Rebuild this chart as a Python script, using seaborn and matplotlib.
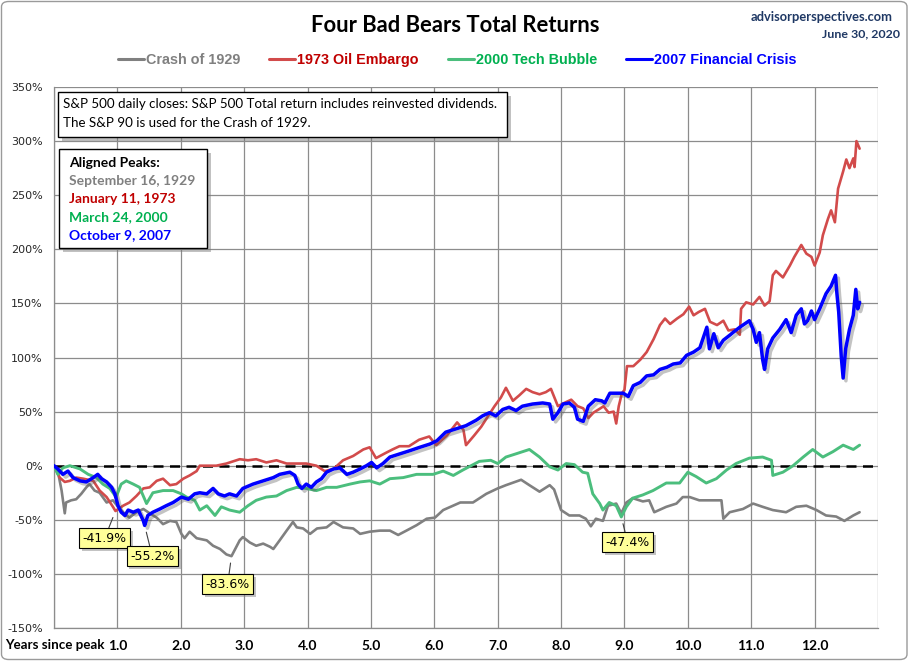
import numpy as np
import pandas as pd
import matplotlib
matplotlib.use("Agg")
import matplotlib.pyplot as plt
import seaborn as sns
from matplotlib import patheffects as pe
from matplotlib.patches import FancyBboxPatch
from matplotlib.lines import Line2D

# ---------------- data ----------------
series_names = ["Crash of 1929", "1973 Oil Embargo", "2000 Tech Bubble", "2007 Financial Crisis"]
peak_dates = ["September 16, 1929", "January 11, 1973", "March 24, 2000", "October 9, 2007"]

years_1929 = [0.00, 0.06, 0.12, 0.17, 0.19, 0.27, 0.35, 0.43, 0.51, 0.56, 0.64, 0.72, 0.83, 0.93,
              1.01, 1.09, 1.19, 1.30, 1.41, 1.51, 1.62, 1.72, 1.83, 1.93, 2.01, 2.06, 2.14, 2.25,
              2.41, 2.51, 2.62, 2.72, 2.80, 2.85, 2.93, 2.98, 3.09, 3.19, 3.30, 3.41, 3.46, 3.56,
              3.67, 3.77, 3.83, 3.93, 4.04, 4.15, 4.30, 4.41, 4.56, 4.72, 4.83, 4.98, 5.14, 5.30,
              5.43, 5.56, 5.72, 5.88, 6.01, 6.14, 6.41, 6.61, 6.82, 7.00, 7.13, 7.37, 7.50, 7.66,
              7.82, 7.89, 8.00, 8.13, 8.29, 8.39, 8.47, 8.55, 8.66, 8.74, 8.87, 8.95, 9.03, 9.13,
              9.29, 9.39, 9.47, 9.66, 9.82, 9.92, 10.03, 10.18, 10.34, 10.53, 10.56, 10.66, 10.87,
              11.03, 11.18, 11.34, 11.55, 11.71, 11.87, 12.03, 12.18, 12.34, 12.47, 12.61, 12.71]
ret_1929 = [0, -5, -23, -44, -34, -32, -31, -26, -20, -17, -23, -25, -34, -32,
            -38, -43, -48, -43, -40, -44, -48, -54, -51, -52, -63, -67, -61, -67,
            -69, -74, -77, -82, -83.6, -78, -69, -66, -71, -74, -72, -75, -77, -69,
            -60, -52, -57, -58, -63, -58, -57, -52, -57, -58, -63, -61, -60, -60,
            -64, -60, -55, -49, -48, -41, -34, -34, -26, -21, -18, -13, -18, -24,
            -18, -22, -41, -46, -46, -49, -56, -49, -51, -37, -35, -44, -34, -30,
            -33, -32, -43, -38, -35, -29, -29, -32, -32, -32, -49, -43, -40,
            -35, -38, -41, -43, -38, -37, -41, -46, -47, -51, -46, -43]

years_1973 = [0.00, 0.09, 0.17, 0.25, 0.35, 0.46, 0.62, 0.72, 0.83, 0.93, 0.97, 1.09, 1.19, 1.30,
              1.41, 1.51, 1.62, 1.72, 1.83, 1.93, 2.04, 2.14, 2.25, 2.30, 2.41, 2.56, 2.72, 2.93,
              3.06, 3.19, 3.35, 3.51, 3.67, 3.83, 3.98, 4.14, 4.27, 4.41, 4.56, 4.72, 4.88, 4.98,
              5.08, 5.24, 5.34, 5.45, 5.60, 5.76, 5.92, 6.03, 6.20, 6.36, 6.46, 6.50, 6.63, 6.74,
              6.84, 6.95, 7.05, 7.13, 7.24, 7.34, 7.45, 7.55, 7.66, 7.76, 7.84, 7.95, 8.05, 8.16,
              8.26, 8.35, 8.43, 8.51, 8.62, 8.67, 8.75, 8.83, 8.87, 8.91, 8.96, 9.00, 9.04, 9.14,
              9.25, 9.35, 9.46, 9.56, 9.64, 9.72, 9.83, 9.93, 10.02, 10.09, 10.17, 10.27, 10.35,
              10.46, 10.56, 10.64, 10.74, 10.82, 10.84, 10.92, 11.03, 11.13, 11.21, 11.29, 11.34,
              11.39, 11.50, 11.61, 11.68, 11.79, 11.87, 11.95, 12.00, 12.08, 12.13, 12.21, 12.26,
              12.32, 12.37, 12.45, 12.50, 12.55, 12.61, 12.63, 12.66, 12.71]
ret_1973 = [0, -11, -15, -14, -11, -12, -14, -23, -29, -38, -41.9, -37, -34, -28,
            -21, -20, -14, -12, -18, -17, -12, -9, -5, 0, 0, 0, 2, 6,
            5, 6, 3, 5, 2, 2, 2, 0, -5, -3, 5, 9, 15, 17,
            7, 12, 15, 18, 18, 24, 27, 19, 28, 40, 33, 19, 28, 36,
            45, 55, 63, 72, 60, 65, 71, 68, 66, 68, 71, 55, 58, 61,
            55, 53, 44, 49, 53, 55, 49, 50, 39, 55, 67, 70, 92, 92,
            98, 105, 117, 130, 136, 131, 136, 140, 147, 139, 142, 145, 133,
            130, 134, 125, 126, 121, 145, 151, 149, 156, 148, 152, 176,
            180, 174, 185, 193, 204, 196, 193, 185, 197, 213, 228, 236,
            225, 256, 272, 283, 275, 284, 276, 300, 293]

years_2000 = [0.00, 0.06, 0.14, 0.25, 0.41, 0.54, 0.67, 0.77, 0.88, 0.98, 1.06, 1.14, 1.25, 1.35,
              1.46, 1.56, 1.72, 1.88, 2.01, 2.09, 2.22, 2.30, 2.41, 2.54, 2.64, 2.77, 2.93, 3.06,
              3.19, 3.35, 3.51, 3.67, 3.83, 3.98, 4.14, 4.30, 4.46, 4.67, 4.83, 4.98, 5.14, 5.30,
              5.51, 5.72, 5.98, 6.14, 6.30, 6.45, 6.71, 6.89, 7.00, 7.13, 7.29, 7.50, 7.66, 7.82,
              7.95, 8.08, 8.21, 8.34, 8.42, 8.50, 8.61, 8.66, 8.76, 8.87, 8.95, 9.03, 9.13, 9.29,
              9.45, 9.66, 9.87, 10.00, 10.13, 10.29, 10.45, 10.61, 10.76, 10.97, 11.18, 11.32, 11.34,
              11.50, 11.66, 11.82, 11.97, 12.13, 12.29, 12.45, 12.61, 12.71]
ret_2000 = [0, -8, -2, 0, -3, -8, -11, -17, -21, -29, -17, -14, -17, -20,
            -35, -25, -23, -23, -26, -29, -32, -41, -37, -46, -38, -41, -43, -37,
            -32, -29, -28, -23, -20, -21, -23, -20, -20, -17, -15, -14, -17, -12,
            -11, -8, -8, -5, -9, -4, 4, 5, 2, 8, 11, 15, 8, -1,
            -4, 2, 1, -6, -7, -26, -35, -41, -34, -37, -47.4, -38, -30, -27,
            -23, -16, -16, -6, -10, -16, -12, -4, 2, 7, 8, 5, -9,
            -6, 0, 8, 15, 8, 13, 19, 15, 19]

years_2007 = [0.00, 0.06, 0.14, 0.22, 0.30, 0.41, 0.51, 0.62, 0.69, 0.75, 0.83, 0.91, 0.96, 1.01,
              1.06, 1.12, 1.17, 1.25, 1.33, 1.41, 1.43, 1.48, 1.56, 1.67, 1.77, 1.88, 2.01, 2.12,
              2.22, 2.30, 2.41, 2.51, 2.59, 2.69, 2.77, 2.88, 2.98, 3.14, 3.30, 3.46, 3.56, 3.72,
              3.80, 3.85, 3.91, 3.98, 4.06, 4.14, 4.22, 4.30, 4.41, 4.51, 4.62, 4.72, 4.83, 4.93,
              5.01, 5.09, 5.19, 5.30, 5.46, 5.62, 5.77, 5.93, 6.04, 6.18, 6.34, 6.50, 6.66, 6.76,
              6.87, 6.97, 7.08, 7.18, 7.29, 7.39, 7.55, 7.71, 7.82, 7.87, 7.95, 8.03, 8.13, 8.21,
              8.26, 8.35, 8.43, 8.54, 8.64, 8.69, 8.77, 8.88, 8.98, 9.06, 9.14, 9.25, 9.35, 9.46,
              9.56, 9.67, 9.77, 9.88, 9.98, 10.09, 10.19, 10.30, 10.34, 10.41, 10.48, 10.56, 10.67,
              10.71, 10.82, 10.97, 11.03, 11.08, 11.13, 11.18, 11.21, 11.26, 11.34, 11.45, 11.55,
              11.63, 11.71, 11.79, 11.84, 11.89, 11.95, 12.00, 12.08, 12.18, 12.26, 12.33, 12.35,
              12.38, 12.42, 12.45, 12.49, 12.55, 12.61, 12.65, 12.68, 12.71]
ret_2007 = [0, -3, -8, -5, -11, -14, -15, -11, -8, -12, -15, -20, -26, -37,
            -43, -46, -41, -43, -41, -51, -55.2, -46, -43, -40, -37, -34, -29, -31,
            -26, -25, -26, -21, -26, -28, -26, -28, -21, -17, -14, -11, -8, -6,
            -9, -17, -21, -17, -20, -15, -12, -6, -3, -2, -8, -6, -3, 0,
            3, -2, 2, 8, 11, 14, 17, 20, 23, 31, 34, 37, 42, 46,
            49, 46, 52, 54, 51, 55, 57, 58, 57, 43, 49, 57, 58, 54,
            43, 41, 55, 61, 60, 58, 67, 67, 67, 64, 74, 77, 83, 84,
            89, 91, 94, 95, 102, 105, 109, 128, 108, 122, 109, 116, 121,
            123, 128, 134, 126, 114, 123, 98, 89, 108, 118, 126, 135,
            123, 139, 145, 131, 134, 143, 135, 145, 159, 166, 176, 160,
            142, 101, 81, 108, 126, 139, 163, 145, 151]

y_ticks = [-150, -100, -50, 0, 50, 100, 150, 200, 250, 300, 350]
x_ticks = [1, 2, 3, 4, 5, 6, 7, 8, 9, 10, 11, 12]

# ---------------- style ----------------
line_colors = ["#808080", "#D24B4B", "#4BBE7D", "#0000FF"]
text_colors = ["#808080", "#C00000", "#00B050", "#0000FF"]
line_widths = [1.9, 1.9, 2.1, 2.5]

sns.set_theme(style="white")
plt.rcParams["font.family"] = ["DejaVu Sans"]

W, H = 910, 661
fig = plt.figure(figsize=(W / 100, H / 100), dpi=100)
fig.patch.set_facecolor("white")


def fx(x):
    return x / W


def fy(y):
    return 1 - y / H


ax = fig.add_axes([fx(54), fy(628), fx(878) - fx(54), fy(87) - fy(628)])
ax.set_facecolor("white")

frames = []
for name, xs, ys in zip(series_names,
                        [years_1929, years_1973, years_2000, years_2007],
                        [ret_1929, ret_1973, ret_2000, ret_2007]):
    frames.append(pd.DataFrame({"year": xs, "ret": ys, "series": name}))
df = pd.concat(frames, ignore_index=True)

ax.axhline(0, color="black", lw=1.8, ls=(0, (4, 2.6)), zorder=1.5)

handles = []
for i, name in enumerate(series_names):
    sub = df[df["series"] == name]
    sns.lineplot(data=sub, x="year", y="ret", ax=ax, color=line_colors[i], lw=line_widths[i],
                 sort=False, estimator=None, zorder=2 + i, legend=False)
    handles.append(Line2D([0], [0], color=line_colors[i], lw=2.2))

blue_line = ax.get_lines()[-1]
blue_line.set_path_effects([pe.SimpleLineShadow(offset=(2, -2), shadow_color="#555555", alpha=0.35),
                            pe.Normal()])

ax.set_xlim(0, 13)
ax.set_ylim(-150, 350)
ax.set_xticks(x_ticks)
ax.set_xticklabels([f"{v:.1f}" for v in x_ticks], fontsize=10, fontweight="bold",
                   family=["Lato", "DejaVu Sans"], color="black")
ax.set_yticks(y_ticks)
ax.set_yticklabels([f"{v}%" for v in y_ticks], fontsize=8, color="#262626")
ax.set_xticks(np.arange(0, 14), minor=True)
ax.grid(True, which="major", color="#8C8C8C", lw=0.9)
ax.grid(True, which="minor", axis="x", color="#8C8C8C", lw=0.9)
ax.set_axisbelow(True)
ax.tick_params(axis="both", which="both", length=0)
ax.tick_params(axis="y", pad=8)
ax.tick_params(axis="x", pad=9)
ax.set_xlabel("")
ax.set_ylabel("")
for s in ["top", "right"]:
    ax.spines[s].set_visible(False)
for s in ["left", "bottom"]:
    ax.spines[s].set_color("#8C8C8C")
    ax.spines[s].set_linewidth(0.9)

# call-outs for the troughs
label_pos = [(2.74, -109.5), (0.80, -67.0), (9.05, -70.6), (1.55, -83.6)]
for i, (xs, ys) in enumerate([(years_1929, ret_1929), (years_1973, ret_1973),
                               (years_2000, ret_2000), (years_2007, ret_2007)]):
    k = int(np.argmin(ys))
    t = ax.annotate(f"{ys[k]:.1f}%", xy=(xs[k], ys[k]), xytext=label_pos[i], textcoords="data",
                    ha="center", va="center", fontsize=9, color="black", zorder=8,
                    bbox=dict(boxstyle="square,pad=0.28", fc="#FFFF99", ec="black", lw=0.8),
                    arrowprops=dict(arrowstyle="-", color="#404040", lw=0.8, shrinkA=0, shrinkB=5))
    t.get_bbox_patch().set_path_effects([pe.withSimplePatchShadow(offset=(2, -2),
                                                                 shadow_rgbFace="#888888", alpha=0.5)])

# ---------------- texts ----------------
fig.text(fx(455), fy(25), "Four Bad Bears Total Returns", ha="center", va="center",
         fontsize=15.8, fontweight="bold", family=["Lato", "DejaVu Sans"], color="black")
fig.text(fx(893), fy(17), "advisorperspectives.com", ha="right", va="center",
         fontsize=9.3, fontweight="bold", family=["Lato", "DejaVu Sans"], color="#1F3864")
fig.text(fx(900), fy(34), "June 30, 2020", ha="right", va="center",
         fontsize=8.9, fontweight="bold", family=["Lato", "DejaVu Sans"], color="#1F3864")
fig.text(fx(5), fy(645), "Years since peak", ha="left", va="center",
         fontsize=9.6, fontweight="bold", family=["Lato", "DejaVu Sans"], color="black")

leg = fig.legend(handles, series_names, loc="center", bbox_to_anchor=(fx(457), fy(60)),
                 ncol=4, frameon=False, handlelength=1.8, handletextpad=0.15,
                 columnspacing=2.0, prop={"family": ["Liberation Sans", "DejaVu Sans"],
                                          "weight": "bold", "size": 10.4})
for txt, c in zip(leg.get_texts(), text_colors):
    txt.set_color(c)


def box(x0, y0, x1, y1):
    p = FancyBboxPatch((fx(x0), fy(y1)), fx(x1) - fx(x0), fy(y0) - fy(y1),
                       boxstyle="square,pad=0", transform=fig.transFigure,
                       fc="white", ec="black", lw=1.0, zorder=5)
    p.set_path_effects([pe.withSimplePatchShadow(offset=(3, -3), shadow_rgbFace="#777777", alpha=0.45)])
    fig.patches.append(p)


box(58, 92, 507, 137)
fig.text(fx(63), fy(104), "S&P 500 daily closes: S&P 500 Total return includes reinvested dividends.",
         ha="left", va="center", fontsize=9.65, family=["Lato", "DejaVu Sans"], color="black", zorder=6)
fig.text(fx(63), fy(123), "The S&P 90 is used for the Crash of 1929.",
         ha="left", va="center", fontsize=9.65, family=["Lato", "DejaVu Sans"], color="black", zorder=6)

box(59, 149, 207, 248)
fig.text(fx(69), fy(163), "Aligned Peaks:", ha="left", va="center", fontsize=10,
         fontweight="bold", family=["Lato", "DejaVu Sans"], color="black", zorder=6)
for i, d in enumerate(peak_dates):
    fig.text(fx(69), fy(181 + 18 * i), d, ha="left", va="center", fontsize=10,
             fontweight="bold", family=["Lato", "DejaVu Sans"], color=text_colors[i], zorder=6)

border = FancyBboxPatch((fx(1.5), fy(659.5)), fx(907) - fx(1.5), fy(1.5) - fy(659.5),
                        boxstyle="round,pad=0,rounding_size=0.008", transform=fig.transFigure,
                        fc="none", ec="#9A9A9A", lw=1.0, zorder=10)
fig.patches.append(border)

fig.savefig("out.png", dpi=100, facecolor="white")
